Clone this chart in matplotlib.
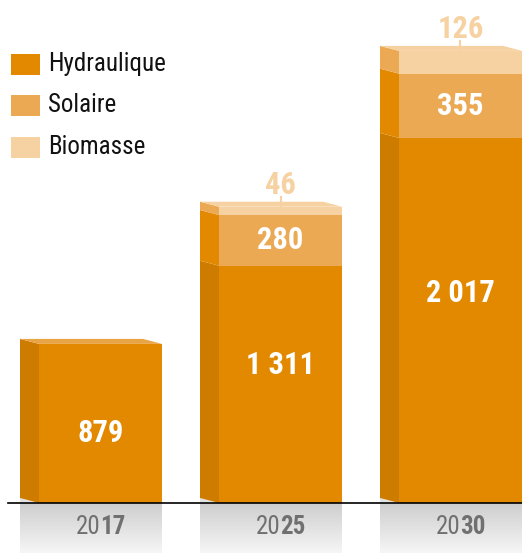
import matplotlib.pyplot as plt
import numpy as np
from matplotlib.patches import Rectangle, Polygon
from matplotlib.colors import LinearSegmentedColormap

plt.rcParams.update({"font.family": ["Roboto Condensed", "DejaVu Sans"]})

years = ["2017", "2025", "2030"]
hydraulique = [879, 1311, 2017]
solaire = [0, 280, 355]
biomasse = [0, 46, 126]
series = ["Hydraulique", "Solaire", "Biomasse"]

front = ["#e28900", "#eba954", "#f6d1a1"]
side = ["#cd7c00", "#e28900", "#eba954"]
top = ["#e9a545", "#f0bd7a", "#f6d1a1"]

# pixel geometry -> data units
W_PX, H_PX = 522, 553
BASE_PX = 503
XS = 180.0      # px per bar slot
YS = 0.181      # px per MW
X0 = 100.5      # px of first bar centre
bw = 123 / XS
DX = 19 / XS
DY = 5 / YS
label_frac = [0.44, 0.58, 0.575]   # where hydraulique labels sit in their segment

fig = plt.figure(figsize=(W_PX / 100, H_PX / 100), dpi=100)
ax = fig.add_axes([0, 0, 1, 1])
ax.set_xlim(-X0 / XS, (W_PX - X0) / XS)
ax.set_ylim(-(H_PX - BASE_PX) / YS, BASE_PX / YS)
ax.axis("off")

ymin = ax.get_ylim()[0]
grad = np.linspace(0, 1, 100).reshape(-1, 1)
cmap = LinearSegmentedColormap.from_list("g", ["#f6f6f6", "#cecece"])


def fmt(v):
    return f"{v:,}".replace(",", " ")


for i, yr in enumerate(years):
    xl, xr = i - bw / 2, i + bw / 2
    # reflection box under baseline
    ax.imshow(grad, extent=(xl - DX, xr, ymin, 0), cmap=cmap, aspect="auto",
              origin="lower", zorder=0)
    ax.add_patch(Polygon([(xl - DX, 0), (xl - DX, DY), (xl, 0)],
                         closed=True, color="#e2e2e2", lw=0, zorder=1))

    vals = [hydraulique[i], solaire[i], biomasse[i]]
    y0 = 0
    last = max(k for k, v in enumerate(vals) if v > 0)
    for k, v in enumerate(vals):
        if v <= 0:
            continue
        y1 = y0 + v
        ax.add_patch(Rectangle((xl, y0), bw, v, color=front[k], lw=0, zorder=2))
        ax.add_patch(Polygon([(xl, y0), (xl, y1), (xl - DX, y1 + DY), (xl - DX, y0 + DY)],
                             closed=True, color=side[k], lw=0, zorder=2))
        if k == last:
            ax.add_patch(Polygon([(xl, y1), (xr, y1), (xr - DX, y1 + DY), (xl - DX, y1 + DY)],
                                 closed=True, color=top[k], lw=0, zorder=2))
        if k == 0:
            ax.text(i, y0 + v * label_frac[i], fmt(v), ha="center", va="center",
                    color="white", fontsize=22, fontweight="heavy", zorder=3)
        elif k == 1:
            ax.text(i, y0 + v / 2, fmt(v), ha="center", va="center",
                    color="white", fontsize=22, fontweight="heavy", zorder=3)
        else:
            ax.plot([i, i], [y1, y1 + 10 / YS], color=front[2], lw=1.5, zorder=3)
            ax.annotate(fmt(v), (i, y1 + 10 / YS), xytext=(0, 2), textcoords="offset points",
                        ha="center", va="baseline", color=front[2], fontsize=22,
                        fontweight="heavy", zorder=3)
        y0 = y1

    # year label: "20" regular + last two digits bold
    ypos = ymin + (H_PX - 527) / YS
    ax.text(i, ypos, yr[:2], ha="right", va="center", color="#707070", fontsize=18)
    ax.text(i, ypos, yr[2:], ha="left", va="center", color="#707070", fontsize=18,
            fontweight="bold")

# baseline
ax.plot([ax.get_xlim()[0] + 8 / XS, ax.get_xlim()[1]], [0, 0], color="black", lw=1.2, zorder=4)

# legend
for k, name in enumerate(series):
    yc = 1 - (64 + 41.5 * k) / H_PX
    ax.add_patch(Rectangle((11 / W_PX, yc - 10.5 / H_PX), 29 / W_PX, 21 / H_PX,
                           transform=ax.transAxes, color=front[k], lw=0))
    ax.text(48 / W_PX, yc, name, transform=ax.transAxes, ha="left", va="center",
            fontsize=18, color="#111111")

fig.savefig("out.png", dpi=100)
